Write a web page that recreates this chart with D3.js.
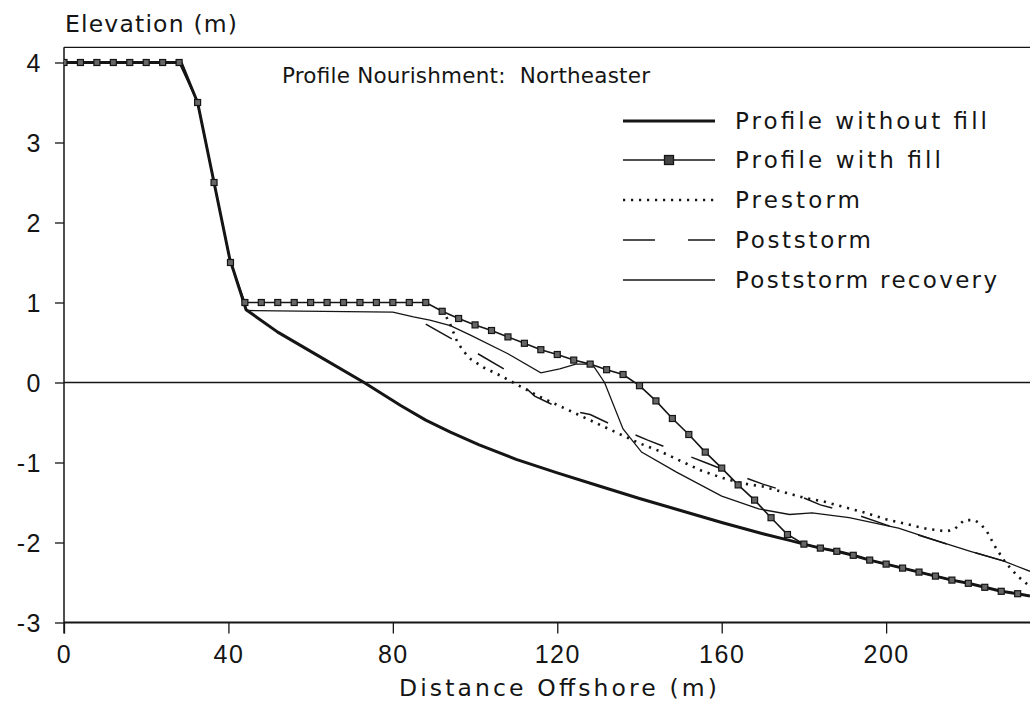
<!DOCTYPE html>
<html><head><meta charset="utf-8">
<script src="https://cdn.jsdelivr.net/npm/d3@7"></script>
<style>body{margin:0;background:#fff}svg{display:block}</style>
</head><body><svg id="c" width="1030" height="714"></svg>
<script>
// ---- data ----
const xTicks = [0, 40, 80, 120, 160, 200];
const yTicks = [4, 3, 2, 1, 0, -1, -2, -3];
const yTickLabels = ["4", "3", "2", "1", "0", "-1", "-2", "-3"];
const seriesNames = ["Profile without fill", "Profile with fill", "Prestorm", "Poststorm", "Poststorm recovery"];

const profileWithoutFill = [[0,4],[28.5,4],[32.5,3.5],[36.5,2.5],[40.3,1.55],[44.3,0.91],[52,0.63],[62,0.33],[73,0],[82,-0.29],[88,-0.47],[94,-0.62],[101,-0.78],[110,-0.96],[120,-1.13],[130,-1.29],[140,-1.45],[150,-1.6],[160,-1.75],[170,-1.89],[177,-1.98],[180,-2.02],[184,-2.07],[188,-2.11],[192,-2.16],[196,-2.22],[200,-2.27],[204,-2.32],[208,-2.37],[212,-2.42],[216,-2.47],[220,-2.51],[224,-2.56],[228,-2.61],[232,-2.64],[235,-2.67]];

const profileWithFill = [[0,4],[4,4],[8,4],[12,4],[16,4],[20,4],[24,4],[28,4],[32.5,3.5],[36.5,2.5],[40.5,1.5],[44,1],[48,1],[52,1],[56,1],[60,1],[64,1],[68,1],[72,1],[76,1],[80,1],[84,1],[88,1],[92,0.89],[96,0.8],[100,0.72],[104,0.65],[108,0.57],[112,0.49],[116,0.41],[120,0.35],[124,0.28],[128,0.23],[132,0.16],[136,0.1],[140,-0.04],[144,-0.23],[148,-0.45],[152,-0.65],[156,-0.87],[160,-1.07],[164,-1.28],[168,-1.47],[172,-1.69],[176,-1.9],[180,-2.02],[184,-2.07],[188,-2.11],[192,-2.16],[196,-2.22],[200,-2.27],[204,-2.32],[208,-2.37],[212,-2.42],[216,-2.47],[220,-2.51],[224,-2.56],[228,-2.61],[232,-2.64]];

const prestorm = [[91.5,0.88],[93,0.82],[94,0.72],[95.5,0.53],[97,0.4],[99,0.29],[102,0.19],[106,0.09],[110,-0.02],[115,-0.16],[120,-0.28],[125,-0.4],[130,-0.52],[135,-0.64],[140,-0.76],[145,-0.86],[150,-0.98],[155,-1.1],[160,-1.19],[165,-1.26],[170,-1.3],[175,-1.37],[180,-1.44],[185,-1.49],[190,-1.56],[195,-1.63],[200,-1.71],[205,-1.77],[210,-1.83],[214.5,-1.86],[216.5,-1.84],[219,-1.72],[221.5,-1.72],[223,-1.77],[224.5,-1.86],[226.5,-2.05],[229,-2.25],[232,-2.42],[235,-2.55]];

const poststorm = [[88,0.73],[101,0.35],[108,0.14],[114.5,-0.17],[121,-0.33],[128,-0.4],[135,-0.57],[142,-0.72],[149,-0.86],[156,-1.0],[163,-1.14],[170,-1.27],[177.5,-1.39],[184,-1.53],[191.5,-1.63],[200,-1.78],[213,-1.99],[220.5,-2.11],[228.5,-2.23],[235,-2.36]];

const poststormRecovery = [[44.3,0.9],[80,0.88],[85,0.82],[89,0.78],[94,0.71],[99,0.59],[108,0.36],[116,0.12],[120.6,0.17],[124.5,0.23],[128.5,0.23],[131.5,0],[136,-0.58],[140.5,-0.87],[149,-1.12],[160,-1.42],[169,-1.58],[176.5,-1.65],[182,-1.63],[191,-1.69],[203,-1.82],[213,-1.99],[220.5,-2.11],[228.5,-2.23],[235,-2.36]];

// ---- layout ----
const svg = d3.select("#c");
const FONT = "'Liberation Sans', Arial, sans-serif";
const WFONT = "'DejaVu Sans', 'Liberation Sans', sans-serif";
const ink = "#151515";
const x = d3.scaleLinear().domain([0, 235]).range([64, 1030]);
const y = d3.scaleLinear().domain([-3, 4]).range([622.5, 62.5]);
const yTop = 4.19;

svg.append("defs").append("clipPath").attr("id", "clip")
  .append("rect").attr("x", x(0)).attr("y", y(yTop)).attr("width", x(235) - x(0)).attr("height", y(-3) - y(yTop));

function fitText(sel, len) {
  sel.attr("textLength", len).attr("lengthAdjust", "spacing");
  return sel;
}

// frame: top line, left axis, bottom axis
svg.append("line").attr("x1", x(0)).attr("x2", x(235)).attr("y1", y(yTop)).attr("y2", y(yTop))
  .attr("stroke", ink).attr("stroke-width", 1.3);

const yAxis = d3.axisLeft(y).tickValues(yTicks).tickSize(9).tickPadding(13)
  .tickFormat((d, i) => yTickLabels[i]);
const gy = svg.append("g").attr("transform", `translate(${x(0)},0)`).call(yAxis);
gy.select(".domain").remove();
svg.append("line").attr("x1", x(0)).attr("x2", x(0)).attr("y1", y(yTop)).attr("y2", y(-3) + 11)
  .attr("stroke", ink).attr("stroke-width", 1.5);

const xAxis = d3.axisBottom(x).tickValues(xTicks).tickSize(11).tickPadding(11);
const gx = svg.append("g").attr("transform", `translate(0,${y(-3)})`).call(xAxis);
gx.select(".domain").remove();
svg.append("line").attr("x1", x(0)).attr("x2", x(235)).attr("y1", y(-3)).attr("y2", y(-3))
  .attr("stroke", ink).attr("stroke-width", 2);

[gx, gy].forEach(g => {
  g.selectAll(".tick line").attr("stroke", ink).attr("stroke-width", 1.3);
  g.selectAll(".tick text").attr("fill", ink).attr("font-family", FONT)
    .attr("font-size", 25).style("letter-spacing", "1.5px");
});
gy.selectAll(".tick text").attr("dy", "0.36em");
gx.selectAll(".tick text").attr("dy", "0.72em");

// zero line
svg.append("line").attr("x1", x(0)).attr("x2", x(235)).attr("y1", y(0)).attr("y2", y(0))
  .attr("stroke", ink).attr("stroke-width", 1.5);

// axis titles
fitText(svg.append("text").attr("x", x(0) + 1).attr("y", 32).text("Elevation (m)")
  .attr("font-family", WFONT).attr("font-size", 23.5).attr("fill", ink), 172);
fitText(svg.append("text").attr("x", 399).attr("y", 696).text("Distance Offshore (m)")
  .attr("font-family", WFONT).attr("font-size", 23.5).attr("fill", ink), 318);
fitText(svg.append("text").attr("x", 282).attr("y", 83).text("Profile Nourishment:  Northeaster")
  .attr("font-family", WFONT).attr("font-size", 21.5).attr("fill", ink)
  .style("white-space", "pre"), 368);

// series
const line = d3.line().x(d => x(d[0])).y(d => y(d[1]));
const plot = svg.append("g").attr("clip-path", "url(#clip)");

plot.append("path").datum(poststormRecovery).attr("d", line).attr("fill", "none")
  .attr("stroke", ink).attr("stroke-width", 1.3);
plot.append("path").datum(poststorm).attr("d", line).attr("fill", "none")
  .attr("stroke", ink).attr("stroke-width", 1.5).attr("stroke-dasharray", "30,30");
plot.append("path").datum(prestorm).attr("d", line).attr("fill", "none")
  .attr("stroke", ink).attr("stroke-width", 2.6).attr("stroke-dasharray", "2.2,5.8");
plot.append("path").datum(profileWithoutFill).attr("d", line).attr("fill", "none")
  .attr("stroke", ink).attr("stroke-width", 3).attr("stroke-linejoin", "round");
plot.append("path").datum(profileWithFill).attr("d", line).attr("fill", "none")
  .attr("stroke", ink).attr("stroke-width", 1.6);
plot.selectAll("rect.mk").data(profileWithFill).enter().append("rect").attr("class", "mk")
  .attr("x", d => x(d[0]) - 3).attr("y", d => y(d[1]) - 3).attr("width", 6).attr("height", 6)
  .attr("fill", "#666").attr("stroke", ink).attr("stroke-width", 1.2);

// legend
const legX0 = 623, legX1 = 715, legText = 735;
const legY = [121, 160, 200, 240, 280];
const legLen = [252, 206, 125, 136, 262];
const styles = [
  {w: 3, dash: null},
  {w: 1.6, dash: null, marker: true},
  {w: 2.6, dash: "2.2,5.8"},
  {w: 1.5, dash: "32,33"},
  {w: 1.3, dash: null}
];
const leg = svg.append("g");
seriesNames.forEach((name, i) => {
  const s = styles[i];
  const l = leg.append("line").attr("x1", legX0).attr("x2", legX1).attr("y1", legY[i]).attr("y2", legY[i])
    .attr("stroke", ink).attr("stroke-width", s.w);
  if (s.dash) l.attr("stroke-dasharray", s.dash);
  if (s.marker) leg.append("rect").attr("x", 669 - 4.5).attr("y", legY[i] - 4.5).attr("width", 9).attr("height", 9)
    .attr("fill", "#444").attr("stroke", ink).attr("stroke-width", 1.3);
  fitText(leg.append("text").attr("x", legText).attr("y", legY[i] + 8).text(name)
    .attr("font-family", WFONT).attr("font-size", 23).attr("fill", ink), legLen[i]);
});
</script></body></html>
